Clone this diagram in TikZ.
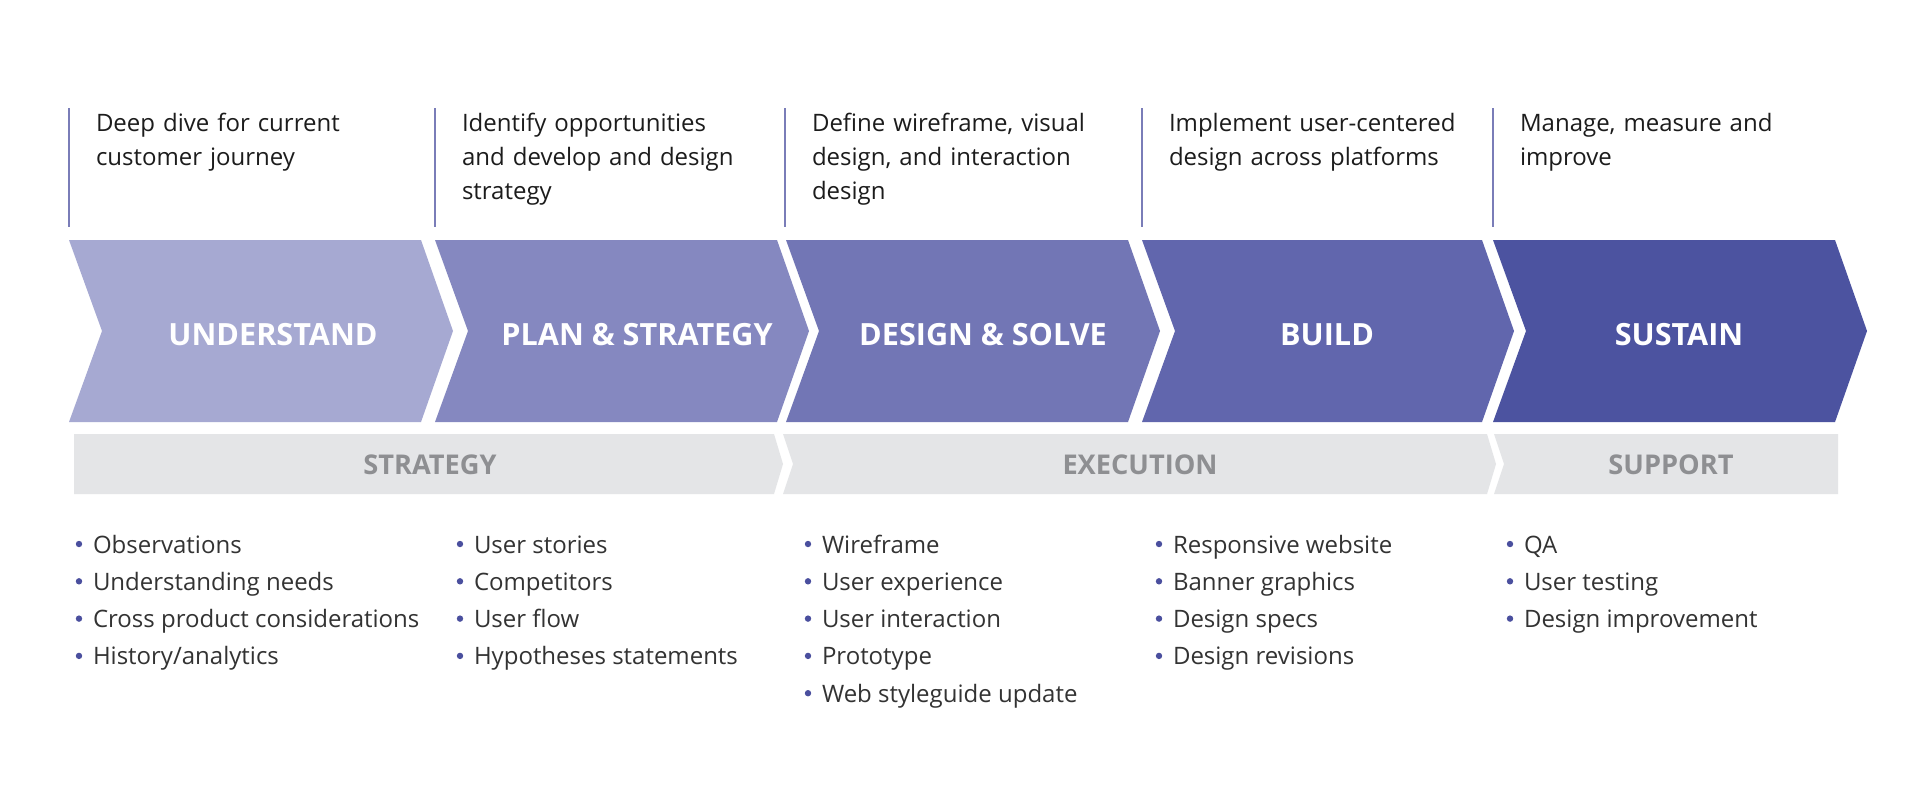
\documentclass[tikz,border=0pt]{standalone}
\usepackage{fontspec}
\setmainfont{Open Sans}
\usepackage{tikz}
\usetikzlibrary{positioning}

\definecolor{stepA}{HTML}{A6A9D2}
\definecolor{stepB}{HTML}{8588C0}
\definecolor{stepC}{HTML}{7276B5}
\definecolor{stepD}{HTML}{6166AD}
\definecolor{stepE}{HTML}{4C53A0}
\definecolor{bandgray}{HTML}{E4E5E7}
\definecolor{bandtext}{HTML}{8E8F92}
\definecolor{ruleblue}{HTML}{7A7DB8}
\definecolor{dotblue}{HTML}{4A4F9E}
\definecolor{introtext}{HTML}{1C1C1C}
\definecolor{itemtext}{HTML}{333333}

\begin{document}
\begin{tikzpicture}[x=0.5pt,y=-0.5pt,every node/.style={inner sep=0pt,outer sep=0pt},
    phase/.style={font=\bfseries\fontsize{15.3}{17}\selectfont,text=white},
    bandlabel/.style={font=\bfseries\fontsize{13.6}{15}\selectfont,text=bandtext},
    intro/.style={anchor=base west,align=left,text width=180pt,font=\fontsize{12}{17}\selectfont,text=introtext},
    item/.style={anchor=base west,font=\fontsize{12}{14}\selectfont,text=itemtext},
    dot/.style={circle,fill=dotblue,minimum size=3.2pt},
    rule/.style={draw=ruleblue,line width=1pt}]
  \useasboundingbox (0,0) rectangle (1920,800);
  \fill[white] (0,0) rectangle (1920,800);

  % top notes with their rules
  \foreach \n/\x/\txt in {1/69/{Deep dive for current\\customer journey},
      2/435/{Identify opportunities\\and develop and design\\strategy},
      3/785/{Define wireframe, visual\\design, and interaction\\design},
      4/1142/{Implement user-centered\\design across platforms},
      5/1493/{Manage, measure and\\improve}}{
    \coordinate (rt\n) at (\x,108);
    \coordinate (rb\n) at (\x,227);
    \draw[rule] (rt\n) -- (rb\n);
    \node[intro] (note\n) at (\x+27,131) {\txt};
  }

  % phase chevrons
  \foreach \l/\r/\c/\lab/\tx/\n in {69/421/stepA/UNDERSTAND/273/understand,
      435/777/stepB/PLAN \& STRATEGY/637/plan,
      786/1128/stepC/DESIGN \& SOLVE/983/design,
      1142/1482/stepD/BUILD/1327/build,
      1493/1835/stepE/SUSTAIN/1679/sustain}{
    \fill[\c] (\l,240) -- (\r,240) -- (\r+32,331) -- (\r,422) -- (\l,422) -- (\l+33,331) -- cycle;
    \node[phase] (\n) at (\tx,335) {\lab};
  }

  % grey band
  \fill[bandgray] (74,434) -- (774,434) -- (783,464) -- (774,494) -- (74,494) -- cycle;
  \fill[bandgray] (783,434) -- (1487,434) -- (1496,464) -- (1487,494) -- (783,494) -- (793,464) -- cycle;
  \fill[bandgray] (1494,434) -- (1838,434) -- (1838,494) -- (1494,494) -- (1504,464) -- cycle;
  \node[bandlabel] (strategy) at (430,465) {STRATEGY};
  \node[bandlabel] (execution) at (1140,465) {EXECUTION};
  \node[bandlabel] (support) at (1671,465) {SUPPORT};

  % bullet lists
  \foreach \col/\tx/\items in {1/93/{Observations,Understanding needs,Cross product considerations,History/analytics},
      2/474/{User stories,Competitors,User flow,Hypotheses statements},
      3/822/{Wireframe,User experience,User interaction,Prototype,Web styleguide update},
      4/1173/{Responsive website,Banner graphics,Design specs,Design revisions},
      5/1524/{QA,User testing,Design improvement}}{
    \foreach \it [count=\k] in \items {
      \node[item] (i\col-\k) at (\tx,553+37.3*\k-37.3) {\it};
      \node[dot] (b\col-\k) at ([shift={(-14,-9)}]i\col-\k.base west) {};
    }
  }
\end{tikzpicture}
\end{document}
